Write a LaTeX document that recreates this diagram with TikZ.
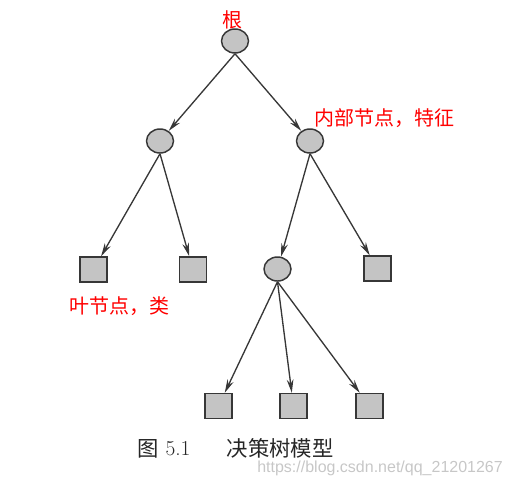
\documentclass[tikz,border=0pt]{standalone}
\usepackage{fontspec}
\newfontfamily\cjk{Noto Sans CJK SC}
\newfontfamily\wmfont{Liberation Sans}
\usetikzlibrary{shapes.geometric,arrows.meta}
\definecolor{edgec}{RGB}{55,55,55}
\definecolor{nodefill}{RGB}{196,196,196}
\definecolor{labred}{RGB}{255,0,0}
\begin{document}
\begin{tikzpicture}[x=0.75pt,y=-0.75pt,
  inner/.style={ellipse,draw=edgec,fill=nodefill,line width=1.1pt,minimum width=20.25pt,minimum height=18pt,inner sep=0pt},
  leaf/.style={rectangle,draw=edgec,fill=nodefill,line width=1.1pt,minimum width=20.25pt,minimum height=18.75pt,inner sep=0pt},
  edge/.style={draw=edgec,line width=1pt,-{Stealth[length=10pt,width=5pt]}},
  redlab/.style={text=labred,font=\cjk\fontsize{15}{18}\selectfont,inner sep=0pt},
  caption/.style={font=\cjk\fontsize{16}{19}\selectfont,text=black!85,inner sep=0pt}]
\useasboundingbox (0,0) rectangle (510,487);
% nodes
\node[inner] (root) at (235,41) {};
\node[inner] (a) at (160,141) {};
\node[inner] (b) at (310,141) {};
\node[leaf] (l1) at (93.5,269.5) {};
\node[leaf] (l2) at (193,269.5) {};
\node[inner] (c) at (277.5,269) {};
\node[leaf] (l3) at (377.5,268.5) {};
\node[leaf] (d1) at (218.5,406) {};
\node[leaf] (d2) at (293.5,406) {};
\node[leaf] (d3) at (369.5,406) {};
% edges
\draw[edge] (root.south) -- (a);
\draw[edge] (root.south) -- (b);
\draw[edge] (a.south) -- (l1);
\draw[edge] (a.south) -- (l2);
\draw[edge] (b.south) -- (c);
\draw[edge] (b.south) -- (l3);
\draw[edge] (c.south) -- (d1);
\draw[edge] (c.south) -- (d2);
\draw[edge] (c.south) -- (d3);
% red labels
\node[redlab] (tgen) at (232,20) {根};
\node[redlab] (tinner) at (384.5,118) {内部节点，特征};
\node[redlab] (tleaf) at (119,306) {叶节点，类};
% caption
\node[caption] (cfig) at (148,448.5) {图};
\node[font=\fontsize{16}{19}\selectfont,text=black!85,inner sep=0pt] (cnum) at (178,448.5) {5.1};
\node[caption] (ctitle) at (280,448.5) {决策树模型};
% watermark
\node[anchor=west,font=\wmfont\fontsize{12}{14}\selectfont,text=black!22,inner sep=0pt] (wm) at (257,468.5) {https://blog.csdn.net/qq\_21201267};
\end{tikzpicture}
\end{document}
